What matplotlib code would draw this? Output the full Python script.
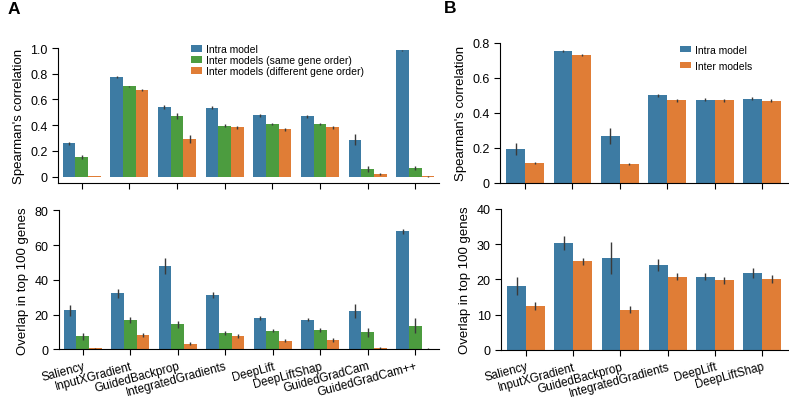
import numpy as np
import matplotlib.pyplot as plt

plt.rcParams['font.family'] = ['Liberation Sans', 'DejaVu Sans']

# ---- data ----
methods_a = ['Saliency', 'InputXGradient', 'GuidedBackprop', 'IntegratedGradients',
             'DeepLift', 'DeepLiftShap', 'GuidedGradCam', 'GuidedGradCam++']
methods_b = methods_a[:6]

legend_a = ['Intra model', 'Inter models (same gene order)', 'Inter models (different gene order)']
legend_b = ['Intra model', 'Inter models']

# panel A, Spearman's correlation
corr_intra_a = [0.259, 0.775, 0.539, 0.536, 0.477, 0.469, 0.288, 0.982]
corr_same_a = [0.153, 0.702, 0.471, 0.396, 0.409, 0.409, 0.060, 0.065]
corr_diff_a = [0.005, 0.674, 0.293, 0.383, 0.368, 0.383, 0.018, 0.002]
corr_intra_a_err = [0.012, 0.005, 0.015, 0.010, 0.012, 0.010, 0.045, 0.005]
corr_same_a_err = [0.015, 0.006, 0.025, 0.010, 0.010, 0.010, 0.025, 0.015]
corr_diff_a_err = [0.003, 0.006, 0.030, 0.012, 0.010, 0.012, 0.008, 0.002]

# panel A, overlap in top 100 genes
ovl_intra_a = [22.4, 32.2, 48.0, 31.3, 18.0, 17.1, 21.9, 67.9]
ovl_same_a = [7.5, 16.9, 14.4, 9.2, 10.7, 11.1, 9.8, 13.6]
ovl_diff_a = [0.6, 8.3, 3.3, 7.7, 5.0, 5.4, 0.8, 0.4]
ovl_intra_a_err = [3.3, 2.5, 4.5, 1.5, 1.2, 1.0, 4.0, 1.5]
ovl_same_a_err = [2.0, 1.5, 2.0, 1.2, 1.0, 1.0, 2.5, 4.5]
ovl_diff_a_err = [0.4, 1.0, 1.0, 1.0, 1.0, 1.0, 0.5, 0.3]

# panel B
corr_intra_b = [0.192, 0.752, 0.269, 0.499, 0.474, 0.480]
corr_inter_b = [0.112, 0.731, 0.105, 0.470, 0.470, 0.469]
corr_intra_b_err = [0.035, 0.006, 0.045, 0.010, 0.008, 0.008]
corr_inter_b_err = [0.005, 0.004, 0.005, 0.008, 0.008, 0.008]

ovl_intra_b = [18.2, 30.3, 26.1, 24.1, 20.8, 21.7]
ovl_inter_b = [12.5, 25.1, 11.4, 20.7, 19.7, 20.1]
ovl_intra_b_err = [2.6, 2.0, 4.5, 1.6, 1.0, 1.4]
ovl_inter_b_err = [1.2, 1.0, 1.0, 1.0, 1.0, 1.0]

corr_ticks_a = [0, 0.2, 0.4, 0.6, 0.8, 1.0]
corr_ticks_b = [0, 0.2, 0.4, 0.6, 0.8]
ovl_ticks_a = [0, 20, 40, 60, 80]
ovl_ticks_b = [0, 10, 20, 30, 40]

blue = '#3d7ba3'
green = '#4c9c3f'
orange = '#e07d36'


def tick_text(v):
    return '0' if v == 0 else (f'{v:.1f}' if isinstance(v, float) else str(v))


def grouped_bars(ax, series, errs, colors, labels):
    """seaborn 스타일 grouped bar (width 0.8 split by hue)"""
    n = len(series)
    w = 0.8 / n
    x = np.arange(len(series[0]))
    for i, (vals, err, c, lab) in enumerate(zip(series, errs, colors, labels)):
        pos = x - 0.4 + w * (i + 0.5)
        ax.bar(pos, vals, width=w, color=c, label=lab, linewidth=0)
        ax.errorbar(pos, vals, yerr=err, fmt='none', ecolor='#3a3a3a',
                    elinewidth=1.0, capsize=0)
    ax.set_xticks(x)


def style(ax, yticks, ylabel):
    ax.spines['top'].set_visible(False)
    ax.spines['right'].set_visible(False)
    ax.spines['left'].set_linewidth(0.8)
    ax.spines['bottom'].set_linewidth(0.8)
    ax.tick_params(direction='out', length=4, width=0.8, labelsize=9)
    ax.set_yticks(yticks)
    ax.set_yticklabels([tick_text(v) for v in yticks])
    ax.set_ylabel(ylabel, fontsize=9.5)


fig = plt.figure(figsize=(7.89, 4.06), dpi=100)

ax1 = fig.add_axes([0.0735, 0.5468, 0.4829, 0.3325])
ax2 = fig.add_axes([0.0748, 0.1372, 0.4816, 0.3424])
ax3 = fig.add_axes([0.6337, 0.5475, 0.3650, 0.3448])
ax4 = fig.add_axes([0.6350, 0.1355, 0.3638, 0.3480])

grouped_bars(ax1, [corr_intra_a, corr_same_a, corr_diff_a],
             [corr_intra_a_err, corr_same_a_err, corr_diff_a_err],
             [blue, green, orange], legend_a)
style(ax1, corr_ticks_a, "Spearman's correlation")
ax1.set_ylim(-0.05, 1.0)
ax1.set_xlim(-0.5, 7.5)
ax1.set_xticklabels([])
ax1.legend(loc='upper left', bbox_to_anchor=(0.35, 1.03), frameon=False,
           fontsize=7.5, handlelength=1.05, handleheight=0.6,
           handletextpad=0.35, labelspacing=0.12, borderpad=0, borderaxespad=0)

grouped_bars(ax2, [ovl_intra_a, ovl_same_a, ovl_diff_a],
             [ovl_intra_a_err, ovl_same_a_err, ovl_diff_a_err],
             [blue, green, orange], legend_a)
style(ax2, ovl_ticks_a, 'Overlap in top 100 genes')
ax2.set_ylim(0, 80)
ax2.set_xlim(-0.5, 7.5)
ax2.set_xticklabels(methods_a, rotation=15, ha='right', rotation_mode='anchor',
                    fontsize=8.5)

grouped_bars(ax3, [corr_intra_b, corr_inter_b],
             [corr_intra_b_err, corr_inter_b_err], [blue, orange], legend_b)
style(ax3, corr_ticks_b, "Spearman's correlation")
ax3.set_ylim(0, 0.8)
ax3.set_xlim(-0.53, 5.55)
ax3.set_xticklabels([])
ax3.legend(loc='upper left', bbox_to_anchor=(0.625, 0.985), frameon=False,
           fontsize=7.5, handlelength=1.05, handleheight=0.6,
           handletextpad=0.35, labelspacing=0.55, borderpad=0, borderaxespad=0)

grouped_bars(ax4, [ovl_intra_b, ovl_inter_b],
             [ovl_intra_b_err, ovl_inter_b_err], [blue, orange], legend_b)
style(ax4, ovl_ticks_b, 'Overlap in top 100 genes')
ax4.set_ylim(0, 40)
ax4.set_xlim(-0.53, 5.55)
ax4.set_xticklabels(methods_b, rotation=15, ha='right', rotation_mode='anchor',
                    fontsize=8.5)

fig.text(0.010, 0.995, 'A', fontsize=12.5, fontweight='bold', va='top')
fig.text(0.562, 0.997, 'B', fontsize=12.5, fontweight='bold', va='top')

fig.savefig('out.png', dpi=100)
